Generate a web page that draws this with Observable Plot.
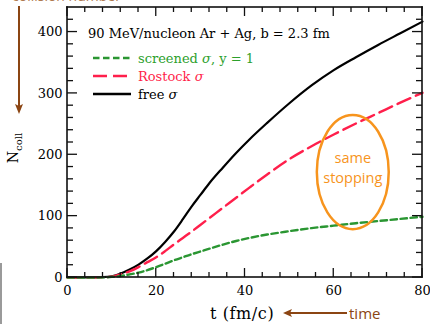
<!DOCTYPE html>
<html><head><meta charset="utf-8">
<script src="https://cdn.jsdelivr.net/npm/d3@7"></script>
<script src="https://cdn.jsdelivr.net/npm/@observablehq/plot@0.6"></script>
<style>body{margin:0;background:#fff} #chart{width:430px;height:324px}</style>
</head><body><div id="chart"></div>
<script>
// time (fm/c)
const times        = [0, 4, 8, 10, 12, 14, 16, 18, 20, 22, 24, 26, 28, 30, 32, 35, 38, 41, 45, 50, 55, 60, 65, 70, 75, 80];
// number of collisions
const freeSigma     = [0, 0, 0.5, 2, 6.5, 13, 21, 31, 43, 58, 75, 95, 116, 135, 154, 179, 203, 225, 252, 284, 313, 338, 359, 379, 398, 417];
const rostockSigma  = [0, 0, 0.3, 1.5, 5, 10, 17, 25, 33, 43, 54, 64.5, 75, 86, 97, 113.5, 130, 146.5, 168, 193, 214, 233, 251, 268, 285, 301];
const screenedSigma = [0, 0, 0.2, 1, 2.5, 5, 8, 12, 17, 22.5, 28, 33, 38, 42.5, 47, 53.5, 59.5, 64.5, 70, 75.5, 80.5, 84.5, 88.5, 92, 95.5, 99];
const seriesNames   = ["screened σ, y = 1", "Rostock σ", "free σ"];
const xTicks = [0, 20, 40, 60, 80];
const yTicks = [0, 100, 200, 300, 400];
const xMinorTicks = [4, 8, 12, 16, 24, 28, 32, 36, 44, 48, 52, 56, 64, 68, 72, 76];
const yMinorTicks = [20, 40, 60, 80, 120, 140, 160, 180, 220, 240, 260, 280, 320, 340, 360, 380, 420];
const xDomain = [0, 80], yDomain = [0, 440];
const titleText = "90 MeV/nucleon Ar + Ag, b = 2.3 fm";
// annotation ellipse (data units)
const ellipseCenter = {t: 64.4, n: 171};
const ellipseRadius = {t: 8.1, n: 93};

const GREEN_LINE = "#2a9632", GREEN_TEXT = "#2ca02c", RED = "#ff1f4b", ORANGE = "#f7941d", BROWN = "#8b4513", FRAME = "#111111";

const rows = (vals, s) => times.map((t, i) => ({t, n: vals[i], s}));
const dataFree = rows(freeSigma, seriesNames[2]);
const dataRostock = rows(rostockSigma, seriesNames[1]);
const dataScreened = rows(screenedSigma, seriesNames[0]);

const plot = Plot.plot({
  width: 430, height: 324,
  marginTop: 7, marginRight: 8, marginBottom: 47, marginLeft: 67,
  style: {fontFamily: "DejaVu Serif", fontSize: "13px", background: "white", color: "black"},
  x: {domain: xDomain},
  y: {domain: yDomain},
  marks: [
    Plot.line(dataFree, {x: "t", y: "n", stroke: "black", strokeWidth: 2.2, curve: "monotone-x"}),
    Plot.line(dataRostock, {x: "t", y: "n", stroke: RED, strokeWidth: 2.4, strokeDasharray: "14,6", curve: "monotone-x"}),
    Plot.line(dataScreened, {x: "t", y: "n", stroke: GREEN_LINE, strokeWidth: 2.4, strokeDasharray: "6.5,3.5", curve: "monotone-x"}),
    Plot.axisX({anchor: "bottom", ticks: xTicks, tickSize: 0, tickPadding: 8, label: null, fontSize: 13}),
    Plot.axisY({anchor: "left", ticks: yTicks, tickSize: 0, tickPadding: 5, label: null, fontSize: 13})
  ]
});
document.getElementById("chart").appendChild(plot);

const svg = d3.select(plot);
const sx = plot.scale("x"), sy = plot.scale("y");
const X = v => sx.apply(v), Y = v => sy.apply(v);
const g = svg.append("g");

// frame and inward ticks on all four sides, drawn as filled rectangles (positions from Plot's scales)
const fx0 = X(xDomain[0]), fx1 = X(xDomain[1]), fy0 = Y(yDomain[0]), fy1 = Y(yDomain[1]);
const box = (x, y, w, h) => g.append("rect").attr("x", x).attr("y", y).attr("width", w).attr("height", h).attr("fill", FRAME);
const fw = 1.6;
box(fx0 - fw / 2, fy1 - fw / 2, fx1 - fx0 + fw, fw);          // top edge
box(fx0 - fw / 2, fy0 - fw / 2, fx1 - fx0 + fw, fw);          // bottom edge
box(fx0 - fw / 2, fy1 - fw / 2, fw, fy0 - fy1 + fw);          // left edge
box(fx1 - fw / 2, fy1 - fw / 2, fw, fy0 - fy1 + fw);          // right edge
const tw = 1.3;
xTicks.forEach(v => { box(X(v) - tw / 2, fy0 - 9, tw, 9); box(X(v) - tw / 2, fy1, tw, 9); });
xMinorTicks.forEach(v => { box(X(v) - tw / 2, fy0 - 5, tw, 5); box(X(v) - tw / 2, fy1, tw, 5); });
yTicks.forEach(v => { box(fx0, Y(v) - tw / 2, 10, tw); box(fx1 - 10, Y(v) - tw / 2, 10, tw); });
yMinorTicks.forEach(v => { box(fx0, Y(v) - tw / 2, 6, tw); box(fx1 - 6, Y(v) - tw / 2, 6, tw); });

// title and legend
g.append("text").attr("x", 88).attr("y", 38).attr("text-anchor", "start").attr("font-family", "DejaVu Serif").attr("font-size", 13).attr("fill", "black").text(titleText);
const legend = [
  {name: seriesNames[0], color: GREEN_LINE, text: GREEN_TEXT, dash: "6.5,3.5", y: 58},
  {name: seriesNames[1], color: RED, text: RED, dash: "14,6", y: 76},
  {name: seriesNames[2], color: "black", text: "black", dash: null, y: 94}
];
legend.forEach(l => {
  const ln = g.append("line").attr("x1", 93).attr("x2", 131).attr("y1", l.y).attr("y2", l.y)
    .attr("stroke", l.color).attr("stroke-width", 2.4);
  if (l.dash) ln.attr("stroke-dasharray", l.dash);
  const t = g.append("text").attr("x", 138).attr("y", l.y + 5).attr("text-anchor", "start").attr("font-family", "DejaVu Serif").attr("font-size", 13).attr("fill", l.text);
  const parts = l.name.split("σ");
  t.append("tspan").text(parts[0]);
  t.append("tspan").attr("font-style", "italic").text("σ");
  if (parts[1]) t.append("tspan").text(parts[1]);
});

// ellipse annotation
const cx = X(ellipseCenter.t), cy = Y(ellipseCenter.n);
g.append("ellipse").attr("cx", cx).attr("cy", cy)
  .attr("rx", X(ellipseCenter.t + ellipseRadius.t) - cx).attr("ry", cy - Y(ellipseCenter.n + ellipseRadius.n))
  .attr("fill", "none").attr("stroke", ORANGE).attr("stroke-width", 2.5);
g.append("text").attr("x", cx).attr("y", cy - 9).attr("text-anchor", "middle").attr("font-family", "Open Sans").attr("font-size", 14.5).attr("fill", ORANGE).text("same");
g.append("text").attr("x", cx).attr("y", cy + 11).attr("text-anchor", "middle").attr("font-family", "Open Sans").attr("font-size", 14.5).attr("fill", ORANGE).text("stopping");

// y axis label N_coll (rotated)
const yl = g.append("text").attr("transform", "translate(18,148) rotate(-90)").attr("text-anchor", "middle")
  .attr("font-family", "DejaVu Serif").attr("font-size", 14).attr("fill", "black");
yl.append("tspan").text("N");
yl.append("tspan").attr("font-size", 10).attr("dy", 4).text("coll");

// x axis label
g.append("text").attr("x", 210).attr("y", 319).attr("text-anchor", "start").attr("font-family", "DejaVu Serif").attr("font-size", 16).attr("letter-spacing", 0.6).attr("fill", "black").text("t (fm/c)");

// brown arrows (line + triangle) & labels
g.append("line").attr("x1", 347).attr("x2", 290).attr("y1", 313).attr("y2", 313).attr("stroke", BROWN).attr("stroke-width", 2);
g.append("path").attr("d", "M283,313 L292,309 L290,313 L292,317 Z").attr("fill", BROWN);
g.append("text").attr("x", 349).attr("y", 319).attr("text-anchor", "start").attr("font-family", "Open Sans").attr("font-size", 15).attr("fill", BROWN).text("time");
g.append("line").attr("x1", 19).attr("x2", 19).attr("y1", 6).attr("y2", 106).attr("stroke", BROWN).attr("stroke-width", 2);
g.append("path").attr("d", "M19,114 L15,104 L19,106 L23,104 Z").attr("fill", BROWN);
g.append("text").attr("x", 12).attr("y", 0.8).attr("text-anchor", "start").attr("font-family", "Open Sans").attr("font-size", 14).attr("fill", "#b07a50").text("collision number");

// left-edge grey strip from the source image
g.append("rect").attr("x", 0).attr("y", 263).attr("width", 2).attr("height", 61).attr("fill", "#9a9a9a");
</script>
</body></html>
